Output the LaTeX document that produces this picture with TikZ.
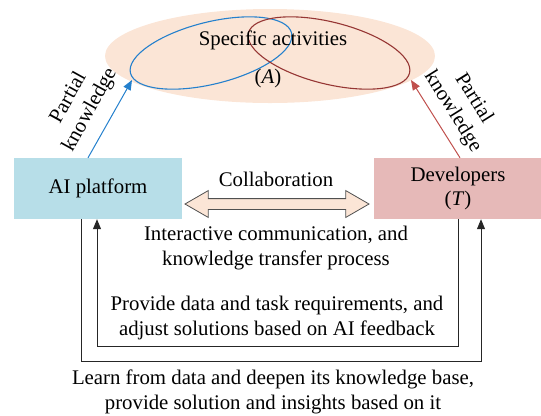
\documentclass[tikz,border=0pt]{standalone}
\usepackage{fontspec}
\setmainfont{Liberation Serif}
\usetikzlibrary{arrows.meta,shapes.geometric,shapes.arrows}
\definecolor{peach}{RGB}{251,229,214}
\definecolor{aiblue}{RGB}{183,222,232}
\definecolor{devpink}{RGB}{230,185,184}
\definecolor{blueln}{RGB}{36,128,205}
\definecolor{redel}{RGB}{150,54,52}
\definecolor{redar}{RGB}{192,80,77}
\definecolor{arrgray}{RGB}{80,80,80}
\begin{document}
\begin{tikzpicture}[x=1bp,y=-1bp,
  font=\fontsize{20.8bp}{24.5bp}\selectfont,
  box/.style={minimum width=168bp, minimum height=61bp, inner sep=0pt, align=center},
  txt/.style={align=center, inner sep=0pt},
  ring/.style={ellipse, minimum width=166bp, minimum height=62bp, inner sep=0pt, line width=1.1bp},
  loopline/.style={draw=black!85, line width=0.9bp},
  tip/.style={-{Triangle[length=10bp,width=8bp]}}]
\useasboundingbox (0,0) rectangle (541,415);
% specific activities
\node[ellipse, fill=peach, minimum width=330bp, minimum height=94bp, inner sep=0pt] (act) at (270,56) {};
\node[ring, draw=blueln, rotate=14] (be) at (211,53) {};
\node[ring, draw=redel, rotate=-14] (re) at (329,53) {};
\node[txt, anchor=base] (sa) at (273,45) {Specific activities};
\node[txt, anchor=base] (aa) at (268,83) {(\textit{A})};
% boxes
\node[box, fill=aiblue] (ai) at (98,188.5) {AI platform};
\node[box, fill=devpink] (dev) at (458,188.5) {Developers\\(\textit{T})};
% partial knowledge arrows
\coordinate (bt) at (132,80);
\coordinate (rt) at (411,80);
\draw[blueln, line width=1bp, tip] ([xshift=-10bp]ai.north) -- (bt);
\draw[redar, line width=1bp, tip] ([xshift=2bp]dev.north) -- (rt);
\node[txt, rotate=61] (pl) at (79.5,104) {Partial\\knowledge};
\node[txt, rotate=-58] (pr) at (463,105) {Partial\\knowledge};
% collaboration
\node[double arrow, draw=arrgray, fill=peach, line width=0.8bp, minimum height=184bp,
  inner sep=5bp, double arrow head extend=8bp, double arrow tip angle=60] (col) at (277,204) {};
\node[txt, anchor=base] (ct) at (276,186) {Collaboration};
\node[txt] (ic) at (276,248) {Interactive communication, and\\knowledge transfer process};
% loops
\draw[loopline, tip] (dev.south) -- ++(0,127) -| ([xshift=-1bp]ai.south);
\draw[loopline, tip] ([xshift=-17bp]ai.south) -- ++(0,142) -| ([xshift=23bp]dev.south);
\node[txt] (pd) at (277,318) {Provide data and task requirements, and\\adjust solutions based on AI feedback};
\node[txt] (lf) at (273,392) {Learn from data and deepen its knowledge base,\\provide solution and insights based on it};
\end{tikzpicture}
\end{document}
